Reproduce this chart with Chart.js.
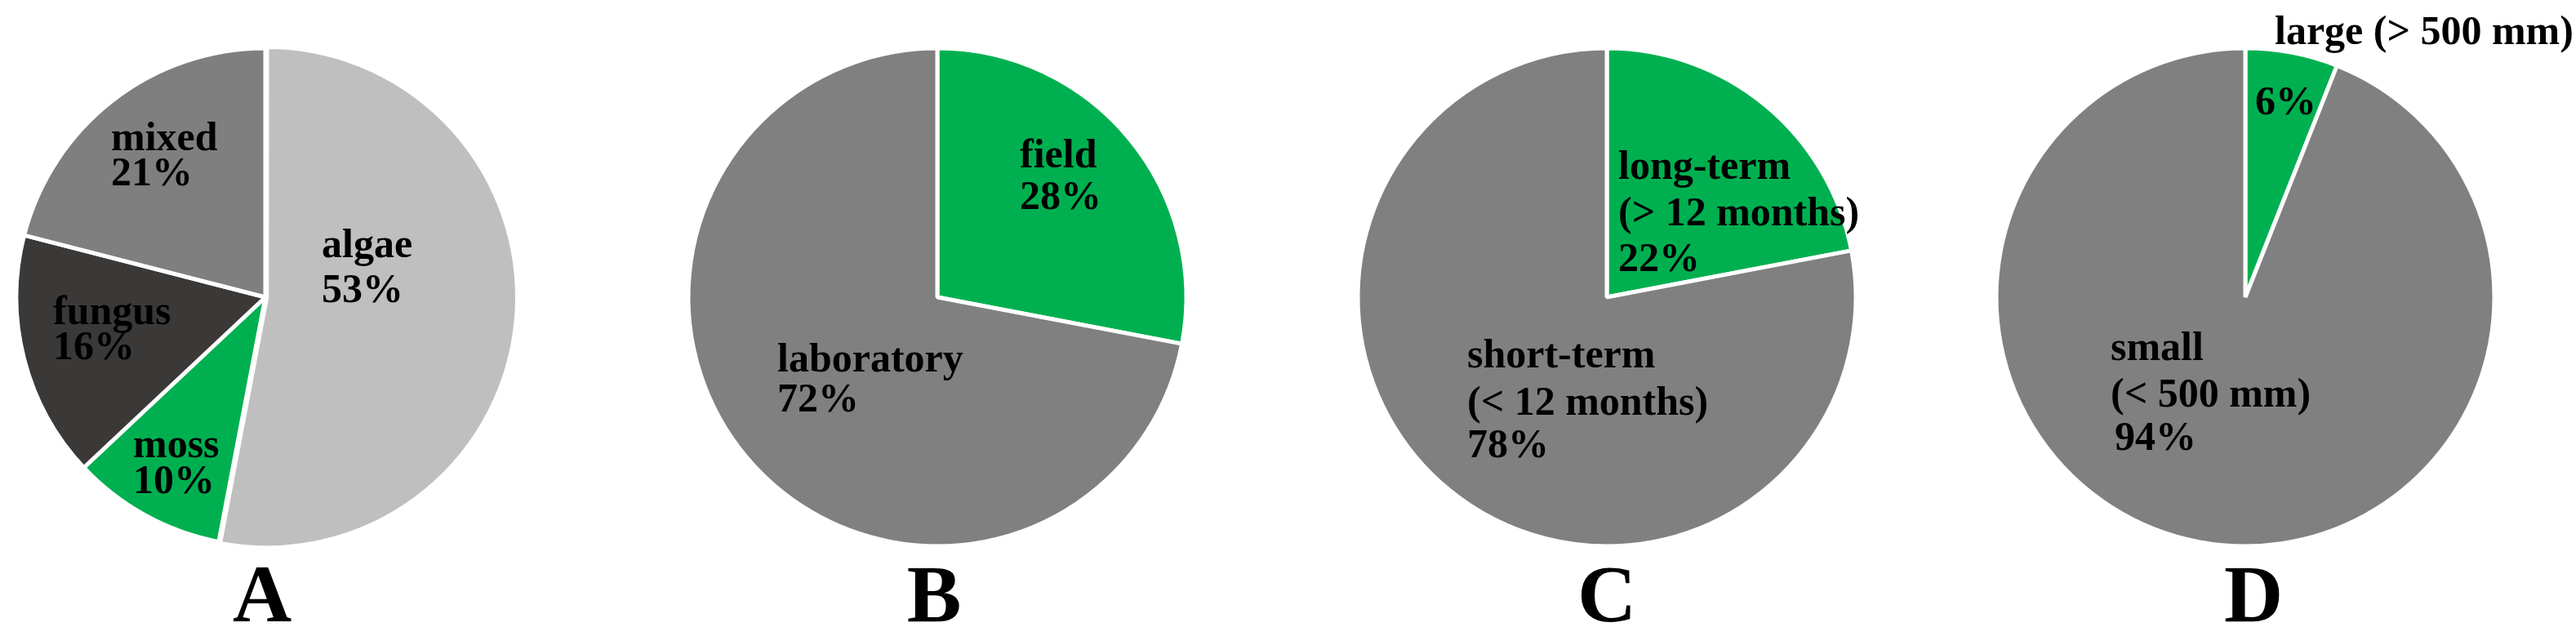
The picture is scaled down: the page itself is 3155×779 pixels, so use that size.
<!DOCTYPE html>
<html>
<head>
<meta charset="utf-8">
<script src="https://cdn.jsdelivr.net/npm/chart.js@4/dist/chart.umd.min.js"></script>
<style>
body { margin: 0; width: 3155px; height: 779px; background: #fff; position: relative; overflow: hidden; }
canvas { position: absolute; }
.lbl { position: absolute; font-family: "Liberation Serif", "Times New Roman", serif; font-weight: bold; font-size: 50px; line-height: 50px; white-space: nowrap; color: #000; }
.panel { position: absolute; width: 200px; text-align: center; font-family: "Liberation Serif", "Times New Roman", serif; font-weight: bold; font-size: 100px; line-height: 100px; color: #000; }
</style>
</head>
<body>
<script>
let catsA = ["algae", "moss", "fungus", "mixed"]
let valsA = [53, 10, 16, 21]
let catsB = ["field", "laboratory"]
let valsB = [28, 72]
let catsC = ["long-term\n(> 12 months)", "short-term\n(< 12 months)"]
let valsC = [22, 78]
let catsD = ["large (> 500 mm)", "small\n(< 500 mm)"]
let valsD = [6, 94]
let panelLetters = ["A", "B", "C", "D"]

let green = "#00b050"
let colorsA = ["#bfbfbf", green, "#3b3838", "#7f7f7f"]
let colorsB = [green, "#808080"]
let colorsC = [green, "#808080"]
let colorsD = [green, "#808080"]
let offsetsA = [7, 0, 0, 0]

// layout (pixels), kept apart from the data
let centersX = [325, 1148, 1968, 2750]
let centerY = 364
let pieRadius = 305
let letterX = [321, 1144, 1968, 2760]
let letterBaseline = 762
// [x, baseline] for each text line of each slice label (name lines, then value)
let labelPos = [
    [[[394, 315], [394, 370]], [[163, 560], [163, 604]], [[65, 397], [65, 440]], [[136, 184], [136, 227]]],
    [[[1249, 205], [1249, 256]], [[952, 455], [952, 504]]],
    [[[1982, 219], [1982, 276], [1982, 332]], [[1797, 450], [1797, 508], [1797, 560]]],
    [[[2786, 54], [2762, 140]], [[2585, 441], [2585, 498], [2590, 551]]]
]

function makePie(p, cats, vals, colors, offsets) {
    let canvas = document.createElement("canvas")
    canvas.width = 640
    canvas.height = 640
    canvas.style.left = (centersX[p] - 320) + "px"
    canvas.style.top = (centerY - 320) + "px"
    document.body.appendChild(canvas)

    new Chart(canvas.getContext("2d"), {
        type: "pie",
        data: {
            labels: cats,
            datasets: [{
                data: vals,
                backgroundColor: colors,
                borderColor: "#ffffff",
                borderWidth: 5,
                radius: pieRadius,
                offset: offsets || 0
            }]
        },
        options: {
            responsive: false,
            animation: false,
            layout: { padding: 0 },
            plugins: {
                legend: { display: false },
                tooltip: { enabled: false }
            }
        }
    })

    for (let i = 0; i < cats.length; i++) {
        let lines = cats[i].split("\n").concat([vals[i] + "%"])
        for (let j = 0; j < lines.length; j++) {
            let div = document.createElement("div")
            div.className = "lbl"
            div.textContent = lines[j]
            div.style.left = labelPos[p][i][j][0] + "px"
            div.style.top = (labelPos[p][i][j][1] - 42) + "px"
            document.body.appendChild(div)
        }
    }

    let letter = document.createElement("div")
    letter.className = "panel"
    letter.textContent = panelLetters[p]
    letter.style.left = (letterX[p] - 100) + "px"
    letter.style.top = (letterBaseline - 84) + "px"
    document.body.appendChild(letter)
}

makePie(0, catsA, valsA, colorsA, offsetsA)
makePie(1, catsB, valsB, colorsB)
makePie(2, catsC, valsC, colorsC)
makePie(3, catsD, valsD, colorsD)
</script>
</body>
</html>
